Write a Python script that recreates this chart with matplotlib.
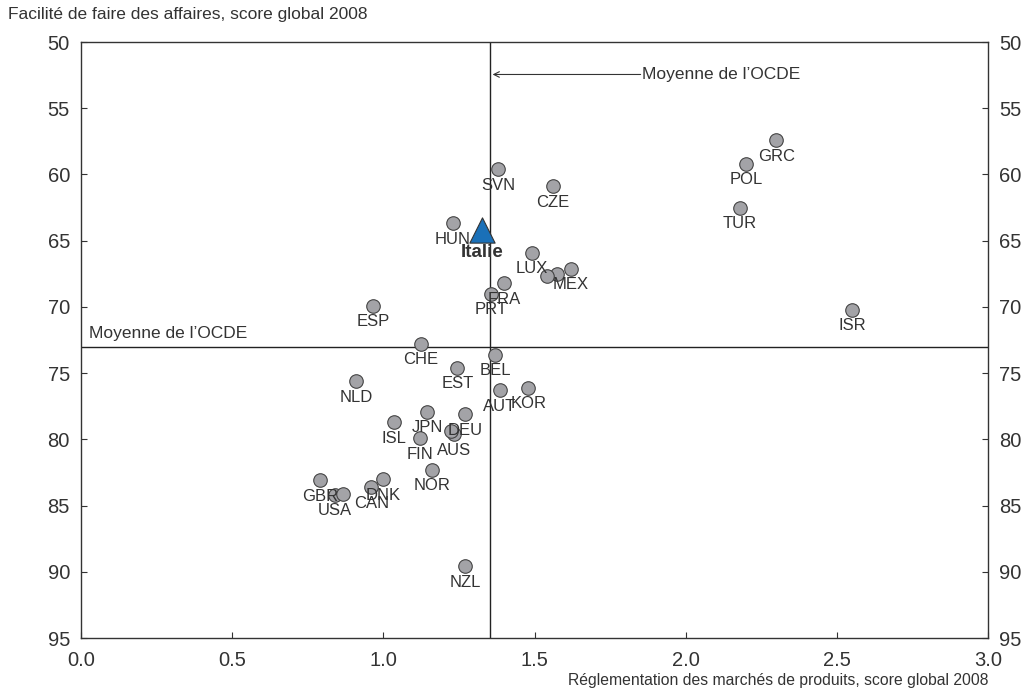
import numpy as np
import matplotlib
matplotlib.use("Agg")
import matplotlib.pyplot as plt

plt.rcParams['font.family'] = ['Liberation Sans', 'DejaVu Sans']

# Country data: product market regulation (x) vs ease of doing business (y)
countries = ['GRC', 'POL', 'TUR', 'ISR', 'SVN', 'CZE', 'HUN', 'LUX', 'MEX', '', '',
             'FRA', 'PRT', 'ESP', 'CHE', 'BEL', 'EST', 'NLD', 'AUT', 'KOR', 'JPN',
             'DEU', 'ISL', 'AUS', '', 'FIN', 'NOR', 'GBR', 'DNK', 'CAN', 'USA', '', 'NZL']
pmr = [2.30, 2.20, 2.18, 2.55, 1.38, 1.56, 1.23, 1.49, 1.62, 1.575, 1.54,
       1.40, 1.355, 0.965, 1.125, 1.37, 1.245, 0.91, 1.385, 1.48, 1.145,
       1.27, 1.035, 1.235, 1.225, 1.12, 1.16, 0.79, 1.00, 0.96, 0.84, 0.865, 1.27]
doing_business = [57.4, 59.2, 62.5, 70.2, 59.6, 60.9, 63.7, 65.9, 67.1, 67.5, 67.7,
                  68.2, 69.0, 69.9, 72.8, 73.6, 74.6, 75.6, 76.3, 76.1, 77.9,
                  78.1, 78.7, 79.6, 79.4, 79.9, 82.3, 83.1, 83.0, 83.6, 84.2, 84.1, 89.6]

italy_x, italy_y = 1.325, 64.2
oecd_x, oecd_y = 1.352, 73.0

fig = plt.figure(figsize=(10.26, 6.89), dpi=100)
ax = fig.add_axes([0.079, 0.074, 0.884, 0.865])

ax.axvline(oecd_x, color='#222222', lw=1.0, zorder=1)
ax.axhline(oecd_y, color='#222222', lw=1.0, zorder=1)

ax.scatter(pmr, doing_business, s=95, color='#a3a3a7', edgecolor='#444444',
           linewidth=0.8, zorder=3)
for name, x, y in zip(countries, pmr, doing_business):
    if name:
        ax.annotate(name, (x, y), xytext=(0, -11.5), textcoords='offset points',
                    ha='center', va='center', fontsize=12, color='#333333', zorder=4)

ax.scatter([italy_x], [italy_y], marker='^', s=330, color='#1a70b8',
           edgecolor='#333333', linewidth=0.8, zorder=5)
ax.annotate('Italie', (italy_x, italy_y), xytext=(0, -16), textcoords='offset points',
            ha='center', va='center', fontsize=13.5, fontweight='bold', color='#333333')

ax.annotate('', xy=(oecd_x, 52.45), xytext=(1.86, 52.45),
            arrowprops=dict(arrowstyle='->', color='#333333', lw=0.8))
ax.text(1.855, 52.45, 'Moyenne de l\u2019OCDE', ha='left', va='center',
        fontsize=12.5, color='#333333')
ax.text(0.025, oecd_y - 0.4, 'Moyenne de l\u2019OCDE', ha='left', va='bottom',
        fontsize=12.5, color='#333333')

ax.set_xlim(0, 3)
ax.set_ylim(95, 50)
ax.set_xticks(np.arange(0, 3.01, 0.5))
ax.set_xticklabels(['%.1f' % v for v in np.arange(0, 3.01, 0.5)])
ax.set_yticks(np.arange(50, 96, 5))
ax.tick_params(direction='in', length=4, labelsize=14.5, labelcolor='#333333',
               right=True, labelright=True, top=False, color='#333333')
ax.tick_params(axis='y', pad=8)
ax.tick_params(axis='x', pad=9)
for sp in ax.spines.values():
    sp.set_color('#333333')
    sp.set_linewidth(1.0)

fig.text(0.008, 0.979, 'Facilit\u00e9 de faire des affaires, score global 2008',
         ha='left', va='center', fontsize=12.5, color='#333333')
fig.text(0.963, 0.013, 'R\u00e9glementation des march\u00e9s de produits, score global 2008',
         ha='right', va='center', fontsize=11.3, color='#333333')

fig.savefig('out.png', dpi=100)
